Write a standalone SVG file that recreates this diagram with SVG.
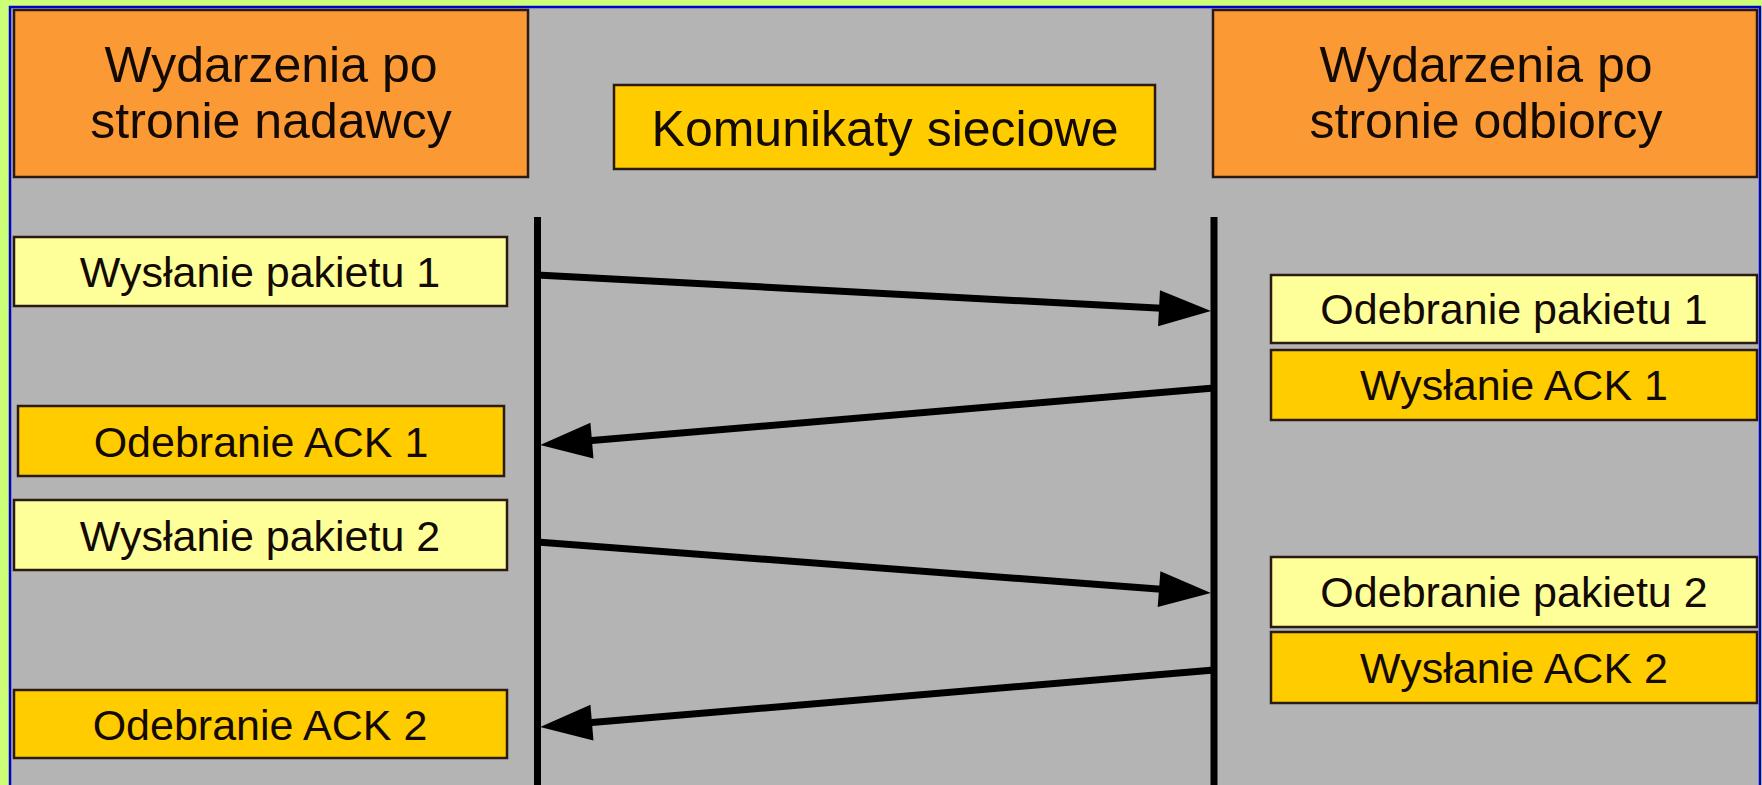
<svg xmlns="http://www.w3.org/2000/svg" width="1762" height="785" viewBox="0 0 1762 785">
  <style>
    .box { stroke: #2a1a12; stroke-width: 2.5; }
    .hdr { fill: #FB9A35; }
    .gold { fill: #FFCC00; }
    .pale { fill: #FFFF99; }
    .lbl { font-family: "Liberation Sans", Arial, sans-serif; fill: #140a04; text-anchor: middle; }
    .big { font-size: 50px; }
    .small { font-size: 43px; }
    .life { stroke: #000; stroke-width: 7; }
    .msg { stroke: #000; stroke-width: 7; fill: none; marker-end: url(#head); }
  </style>
  <defs>
    <marker id="head" markerUnits="userSpaceOnUse" markerWidth="54" markerHeight="38" viewBox="0 0 54 38" refX="13" refY="19" orient="auto">
      <path d="M1,1 L53,19 L1,37 Z" fill="#000"/>
    </marker>
  </defs>

  <!-- page background and framed panel -->
  <rect x="0" y="0" width="1762" height="785" fill="#CCFF77"/>
  <rect x="10" y="7" width="1750" height="780" fill="#B4B4B4" stroke="#0000CC" stroke-width="2.5"/>

  <!-- column headers -->
  <g id="sender-header">
    <rect class="box hdr" x="14" y="10" width="514" height="167"/>
    <text class="lbl big" x="271" y="82">Wydarzenia po</text>
    <text class="lbl big" x="271" y="138">stronie nadawcy</text>
  </g>
  <g id="network-header">
    <rect class="box gold" x="614" y="85" width="541" height="84"/>
    <text class="lbl big" x="885" y="146">Komunikaty sieciowe</text>
  </g>
  <g id="receiver-header">
    <rect class="box hdr" x="1213" y="10" width="544" height="167"/>
    <text class="lbl big" x="1486" y="82">Wydarzenia po</text>
    <text class="lbl big" x="1486" y="138">stronie odbiorcy</text>
  </g>

  <!-- sender events -->
  <g id="send-packet-1">
    <rect class="box pale" x="14" y="237" width="493" height="69"/>
    <text class="lbl small" x="260" y="287">Wysłanie pakietu 1</text>
  </g>
  <g id="recv-ack-1">
    <rect class="box gold" x="18" y="406" width="486" height="70"/>
    <text class="lbl small" x="261" y="457">Odebranie ACK 1</text>
  </g>
  <g id="send-packet-2">
    <rect class="box pale" x="14" y="500" width="493" height="70"/>
    <text class="lbl small" x="260" y="551">Wysłanie pakietu 2</text>
  </g>
  <g id="recv-ack-2">
    <rect class="box gold" x="14" y="690" width="493" height="68"/>
    <text class="lbl small" x="260" y="740">Odebranie ACK 2</text>
  </g>

  <!-- receiver events -->
  <g id="recv-packet-1">
    <rect class="box pale" x="1271" y="275" width="486" height="68"/>
    <text class="lbl small" x="1514" y="324">Odebranie pakietu 1</text>
  </g>
  <g id="send-ack-1">
    <rect class="box gold" x="1271" y="350" width="486" height="70"/>
    <text class="lbl small" x="1514" y="400">Wysłanie ACK 1</text>
  </g>
  <g id="recv-packet-2">
    <rect class="box pale" x="1271" y="557" width="486" height="70"/>
    <text class="lbl small" x="1514" y="607">Odebranie pakietu 2</text>
  </g>
  <g id="send-ack-2">
    <rect class="box gold" x="1271" y="632" width="486" height="71"/>
    <text class="lbl small" x="1514" y="683">Wysłanie ACK 2</text>
  </g>

  <!-- lifelines and messages -->
  <g id="connectors">
    <line class="life" x1="537.5" y1="217" x2="537.5" y2="785"/>
    <line class="life" x1="1214" y1="217" x2="1214" y2="785"/>
    <path class="msg" d="M537,275 L1171,308.8"/>
    <path class="msg" d="M1214,388 L580,441.6"/>
    <path class="msg" d="M537,542 L1171,590"/>
    <path class="msg" d="M1214,670 L580,723.6"/>
  </g>
</svg>
